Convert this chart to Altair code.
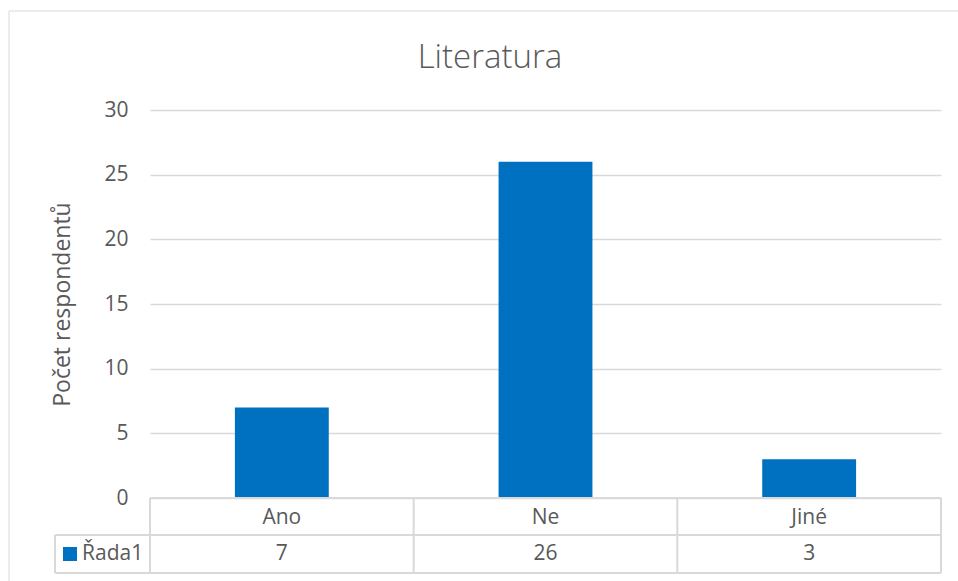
import altair as alt
import pandas as pd

# Survey answers and respondent counts
categories = ["Ano", "Ne", "Jiné"]
counts = [7, 26, 3]
series_name = "Řada1"
y_ticks = [0, 5, 10, 15, 20, 25, 30]

chart_title = "Literatura"
y_title = "Počet respondentů"

BAR_COLOR = "#0070C0"
TEXT_COLOR = "#595959"
LINE_COLOR = "#D9D9D9"
FONT = "Open Sans"

W, H = 791, 388          # plot area
ROW1 = 37                # height of the category row of the data table
ROW2 = 38                # height of the value row
LEGEND_X = -95           # left edge of the series cell

df = pd.DataFrame({"kategorie": categories, "pocet": counts})
one = pd.DataFrame({"serie": [series_name], "nadpis": [chart_title]})

x_enc = alt.X(
    "kategorie:N",
    sort=categories,
    scale=alt.Scale(paddingInner=0, paddingOuter=0),
    axis=alt.Axis(
        title=None, domain=False, ticks=False, grid=False,
        labelAngle=0, labelFont=FONT, labelFontSize=21, labelColor=TEXT_COLOR,
        labelBaseline="middle", labelPadding=ROW1 / 2 + 1,
    ),
)
y_enc = alt.Y(
    "pocet:Q",
    scale=alt.Scale(domain=[0, 30], nice=False),
    axis=alt.Axis(
        values=y_ticks, title=y_title, domain=False, ticks=False,
        grid=True, gridColor=LINE_COLOR, gridWidth=1.3,
        labelFont=FONT, labelFontSize=21, labelColor=TEXT_COLOR, labelPadding=22,
        titleFont=FONT, titleFontSize=23, titleFontWeight="normal",
        titleColor=TEXT_COLOR, titleX=-88, titleY=H / 2, titleBaseline="middle",
        titleAngle=270,
    ),
)

bars = alt.Chart(df).mark_bar(
    color=BAR_COLOR, width=alt.RelativeBandSize(0.356)
).encode(x=x_enc, y=y_enc)

# data table: value row
values = alt.Chart(df).mark_text(
    font=FONT, fontSize=21, color=TEXT_COLOR, baseline="middle"
).encode(
    x=alt.X("kategorie:N", sort=categories),
    y=alt.value(H + ROW1 + ROW2 / 2),
    text="pocet:Q",
)

# table grid: vertical separators at the left edge of each category band
vlines = alt.Chart(df).mark_rule(color=LINE_COLOR, strokeWidth=2).encode(
    x=alt.X("kategorie:N", sort=categories, bandPosition=0),
    y=alt.value(H),
    y2=alt.value(H + ROW1 + ROW2),
)
vline_end = alt.Chart(one).mark_rule(color=LINE_COLOR, strokeWidth=2).encode(
    x=alt.value(W), y=alt.value(H), y2=alt.value(H + ROW1 + ROW2)
)
vline_legend = alt.Chart(one).mark_rule(color=LINE_COLOR, strokeWidth=2).encode(
    x=alt.value(LEGEND_X), y=alt.value(H + ROW1), y2=alt.value(H + ROW1 + ROW2)
)
hline_top = alt.Chart(one).mark_rule(color=LINE_COLOR, strokeWidth=2).encode(
    x=alt.value(0), x2=alt.value(W), y=alt.value(H)
)
hline_mid = alt.Chart(one).mark_rule(color=LINE_COLOR, strokeWidth=2).encode(
    x=alt.value(LEGEND_X), x2=alt.value(W), y=alt.value(H + ROW1)
)
hline_bot = alt.Chart(one).mark_rule(color=LINE_COLOR, strokeWidth=2).encode(
    x=alt.value(LEGEND_X), x2=alt.value(W), y=alt.value(H + ROW1 + ROW2)
)

# series key inside the table
key_square = alt.Chart(one).mark_square(
    color=BAR_COLOR, opacity=1, size=196
).encode(x=alt.value(-80), y=alt.value(H + ROW1 + ROW2 / 2))
key_text = alt.Chart(one).mark_text(
    font=FONT, fontSize=21, color=TEXT_COLOR, align="left", baseline="middle"
).encode(x=alt.value(-68), y=alt.value(H + ROW1 + ROW2 / 2), text="serie:N")

# chart heading, centred on the chart area
heading = alt.Chart(one).mark_text(
    font=FONT, fontSize=33, fontWeight=300, color=TEXT_COLOR,
    align="center", baseline="alphabetic",
).encode(x=alt.value(340), y=alt.value(-42), text="nadpis:N")

# chart area frame
frame_left = alt.Chart(one).mark_rule(color=LINE_COLOR, strokeWidth=1).encode(
    x=alt.value(-141), y=alt.value(-99), y2=alt.value(H + 100)
)
frame_top = alt.Chart(one).mark_rule(color=LINE_COLOR, strokeWidth=1).encode(
    x=alt.value(-141), x2=alt.value(W + 30), y=alt.value(-99)
)

chart = alt.layer(
    frame_left, frame_top, heading,
    bars, hline_top, hline_mid, hline_bot, vlines, vline_end, vline_legend,
    values, key_square, key_text,
).properties(
    width=W,
    height=H,
    autosize=alt.AutoSizeParams(type="none"),
    padding={"left": 150, "top": 110, "right": 17, "bottom": 83},
    background="white",
).configure_view(strokeWidth=0)

chart.save("out.html", embed_options={"renderer": "svg", "actions": False})
